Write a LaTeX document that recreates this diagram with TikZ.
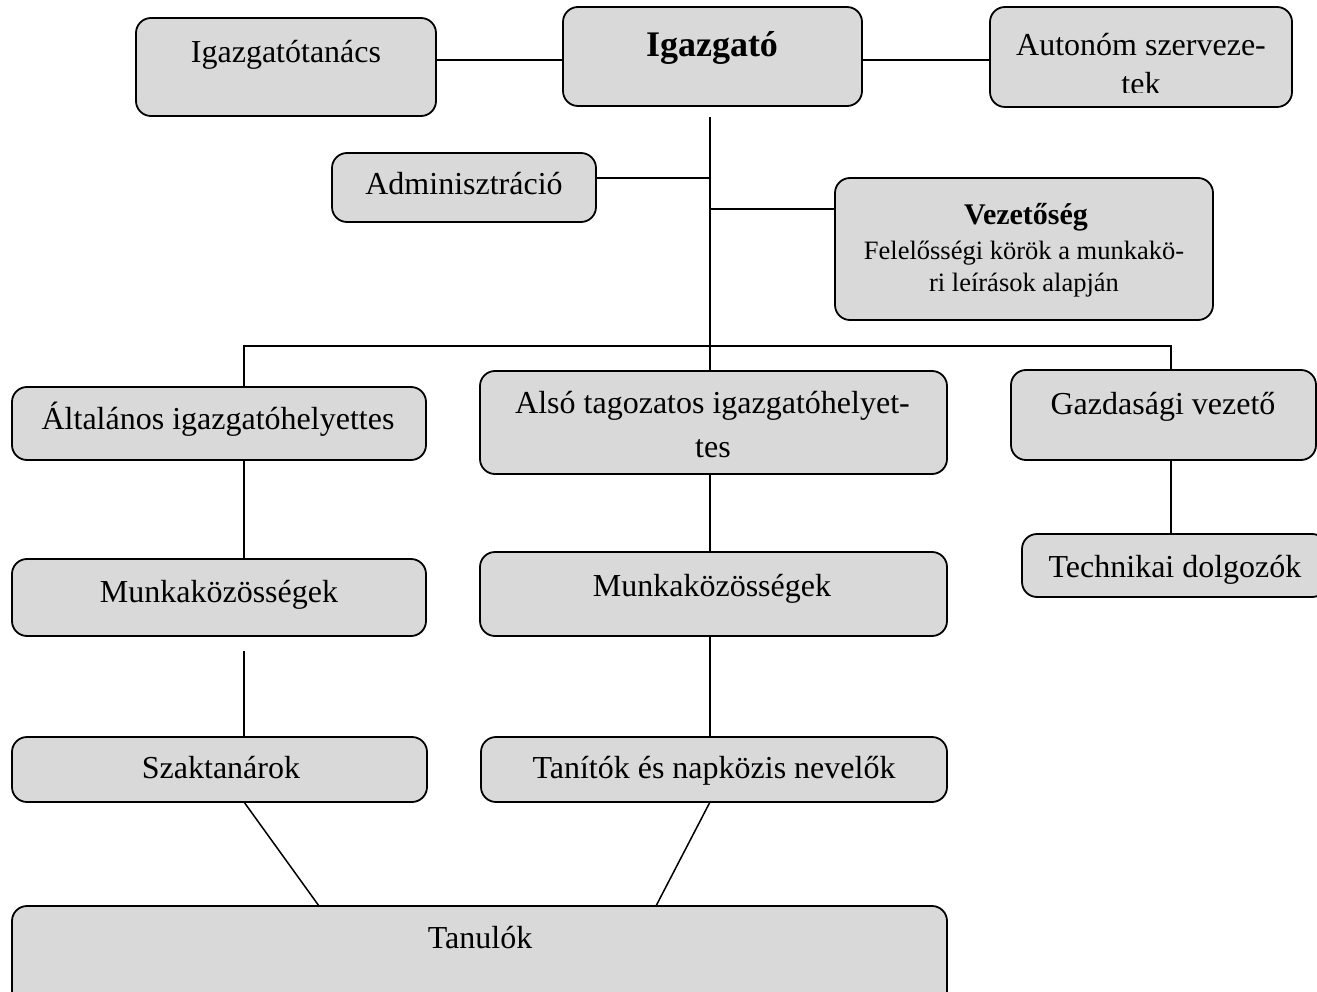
\documentclass[tikz,border=0pt]{standalone}
\usepackage{fontspec}
\setmainfont{Liberation Serif}
\definecolor{boxgray}{HTML}{D9D9D9}
\begin{document}
\begin{tikzpicture}[x=1pt,y=-1pt,
  box/.style={draw=black, line width=1.8pt, rounded corners=15pt, fill=boxgray, inner sep=0pt, outer sep=0pt},
  conn/.style={draw=black, line width=1.5pt},
  txt/.style={font=\fontsize{32}{40}\selectfont, anchor=base, inner sep=0pt},
  txtb/.style={font=\fontsize{30}{36}\selectfont\bfseries, anchor=base, inner sep=0pt},
  txtbig/.style={font=\fontsize{36}{40}\selectfont\bfseries, anchor=base, inner sep=0pt},
  txts/.style={font=\fontsize{26.5}{33}\selectfont, anchor=base, inner sep=0pt}]
\useasboundingbox (0,0) rectangle (1317,992);

% boxes
\node[box, minimum width=300pt, minimum height=98pt] (igt) at (286,67) {};
\node[box, minimum width=299pt, minimum height=99pt] (ig) at (712.5,56.5) {};
\node[box, minimum width=302pt, minimum height=100pt] (aut) at (1141,57) {};
\node[box, minimum width=264pt, minimum height=69pt] (adm) at (464,187.5) {};
\node[box, minimum width=378pt, minimum height=142pt] (vez) at (1024,249) {};
\node[box, minimum width=414pt, minimum height=73pt] (alt) at (219,423.5) {};
\node[box, minimum width=467pt, minimum height=103pt] (also) at (713.5,422.5) {};
\node[box, minimum width=305pt, minimum height=90pt] (gazd) at (1163.5,415) {};
\node[box, minimum width=305pt, minimum height=63pt] (tech) at (1174.5,565.5) {};
\node[box, minimum width=414pt, minimum height=77pt] (mk1) at (219,597.5) {};
\node[box, minimum width=467pt, minimum height=84pt] (mk2) at (713.5,594) {};
\node[box, minimum width=415pt, minimum height=65pt] (szak) at (219.5,769.5) {};
\node[box, minimum width=466pt, minimum height=65pt] (tan) at (714,769.5) {};
\node[box, minimum width=935pt, minimum height=100pt] (tanulok) at (479.5,956) {};

% texts
\node[txt] (t-igt) at (286,63) {Igazgatótanács};
\node[txtbig] (t-ig) at (712,57) {Igazgató};
\begin{scope}
  \clip (980,0) rectangle (1300,93);
  \node[txt] (t-aut1) at (1141,56) {Autonóm szerveze-};
  \node[txt] (t-aut2) at (1141,94.5) {tek};
\end{scope}
\node[txt] (t-adm) at (464,195) {Adminisztráció};
\node[txtb] (t-vez1) at (1026,225) {Vezetőség};
\node[txts] (t-vez2) at (1024,260) {Felelősségi körök a munkakö-};
\node[txts] (t-vez3) at (1024,292) {ri leírások alapján};
\node[txt] (t-alt) at (218,429) {Általános igazgatóhelyettes};
\node[txt] (t-also1) at (712.5,413) {Alsó tagozatos igazgatóhelyet-};
\node[txt] (t-also2) at (713,457) {tes};
\node[txt] (t-gazd) at (1163,414) {Gazdasági vezető};
\node[txt] (t-tech) at (1175,577) {Technikai dolgozók};
\node[txt] (t-mk1) at (219,602) {Munkaközösségek};
\node[txt] (t-mk2) at (712,596) {Munkaközösségek};
\node[txt] (t-szak) at (221,778) {Szaktanárok};
\node[txt] (t-tan) at (714,778) {Tanítók és napközis nevelők};
\node[txt] (t-tanulok) at (480,948) {Tanulók};

% helper coordinates
\coordinate (y60) at (0,60);
\coordinate (trunk) at (710,117);
\coordinate (y178) at (0,178);
\coordinate (y209) at (0,209);
\coordinate (dl) at (244,346);
\coordinate (dr) at (1171,346);
\coordinate (gap1) at (244,651);
\coordinate (s1) at (319,0);
\coordinate (s2) at (656,0);

% connectors
\draw[conn] (igt.east |- y60) -- (ig.west |- y60);
\draw[conn] (ig.east |- y60) -- (aut.west |- y60);
\draw[conn] (trunk) -- (trunk |- also.north);
\draw[conn] (adm.east |- y178) -- (trunk |- y178);
\draw[conn] (trunk |- y209) -- (vez.west |- y209);
\draw[conn] (dl |- alt.north) -- (dl) -- (dr) -- (dr |- gazd.north);
\draw[conn] (dl |- alt.south) -- (dl |- mk1.north);
\draw[conn] (gap1) -- (dl |- szak.north);
\draw[conn] (trunk |- also.south) -- (trunk |- mk2.north);
\draw[conn] (trunk |- mk2.south) -- (trunk |- tan.north);
\draw[conn] (dr |- gazd.south) -- (dr |- tech.north);
\draw[conn] (szak.south -| dl) -- (s1 |- tanulok.north);
\draw[conn] (tan.south -| trunk) -- (s2 |- tanulok.north);
\end{tikzpicture}
\end{document}
